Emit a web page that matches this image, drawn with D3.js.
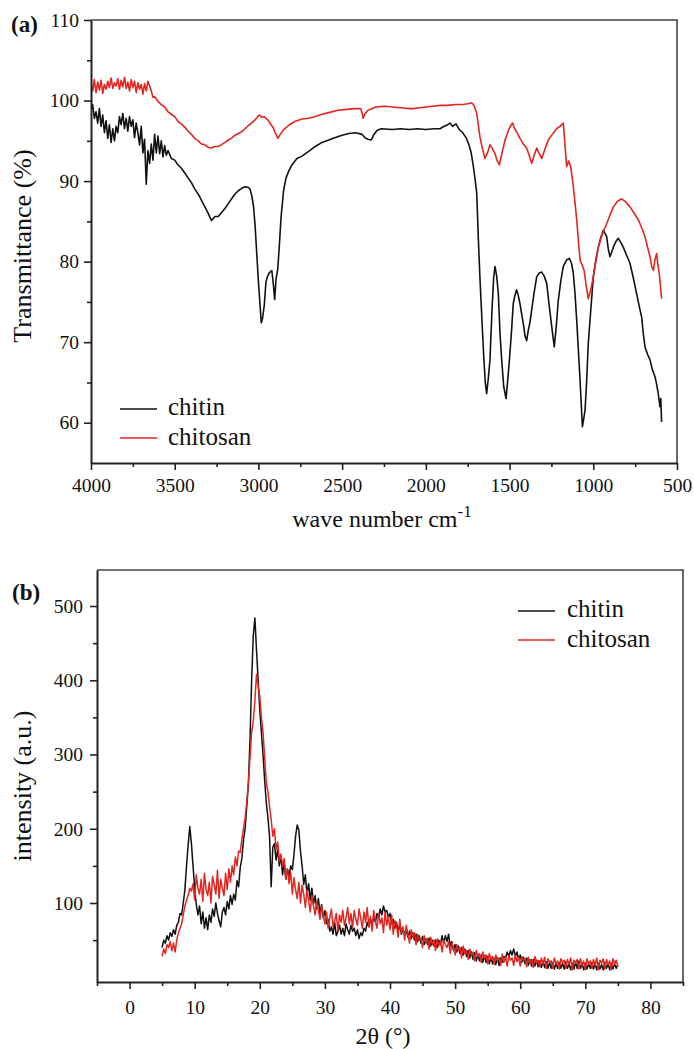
<!DOCTYPE html>
<html>
<head>
<meta charset="utf-8">
<script src="https://cdn.jsdelivr.net/npm/d3@7"></script>
<style>
  body { margin: 0; background: #fff; }
  svg { display: block; }
  text { font-family: "Liberation Serif", "Times New Roman", serif; fill: #111; }
</style>
</head>
<body>
<svg id="chart" width="694" height="1049"></svg>
<script>
// ---------- (a) FTIR spectra ----------
const irChitinWn = [4000,3990,3980,3970,3960,3950,3940,3930,3920,3910,3900,3890,3880,3870,3860,3850,3840,3830,3820,3810,3800,3790,3780,3770,3760,3750,3740,3730,3720,3710,3700,3690,3680,3670,3660,3650,3640,3630,3620,3610,3600,3590,3580,3570,3560,3550,3540,3520,3500,3480,3460,3440,3420,3400,3380,3360,3340,3320,3300,3280,3260,3240,3220,3200,3180,3160,3140,3120,3100,3080,3060,3050,3040,3030,3020,3010,3000,2990,2983,2975,2965,2955,2945,2935,2920,2910,2903,2895,2885,2875,2865,2850,2835,2820,2800,2770,2740,2700,2660,2620,2580,2540,2500,2460,2420,2380,2365,2345,2326,2310,2290,2266,2200,2150,2100,2050,2000,1950,1916,1890,1870,1856,1840,1820,1800,1780,1760,1746,1730,1716,1706,1696,1687,1677,1667,1655,1645,1637,1627,1617,1605,1595,1587,1577,1567,1557,1547,1535,1521,1510,1498,1488,1478,1468,1458,1448,1438,1428,1418,1408,1398,1388,1378,1368,1353,1338,1323,1308,1293,1278,1263,1248,1233,1221,1209,1194,1179,1160,1143,1130,1119,1109,1099,1089,1079,1070,1065,1057,1049,1040,1030,1015,1000,985,970,955,940,930,920,910,900,890,880,865,851,836,821,801,781,761,741,726,711,701,691,676,661,646,631,622,612,602,597,592];
const irChitinT = [98.8,99.5,97.8,98.6,97.2,99.0,96.8,98.2,96.0,97.5,95.3,97.0,94.8,96.5,95.0,96.8,96.0,98.0,97.0,98.4,96.5,97.8,96.2,98.0,96.8,97.6,95.4,97.2,96.0,94.5,96.8,93.5,95.2,89.6,93.8,92.2,94.6,92.6,95.8,93.5,95.6,93.4,95.0,93.0,94.4,93.2,93.8,92.8,92.6,92.0,91.6,91.0,90.4,89.8,89.0,88.4,87.6,86.8,86.0,85.1,85.6,85.6,86.1,86.6,87.2,87.8,88.4,88.8,89.1,89.3,89.2,89.0,88.2,87.0,84.5,81.0,77.5,74.5,72.4,73.0,74.6,77.5,78.2,78.6,78.9,77.0,75.3,77.8,79.0,82.0,85.5,88.8,90.4,91.2,92.0,92.8,93.1,93.7,94.3,94.8,95.1,95.4,95.7,95.9,96.0,95.8,95.4,95.2,95.1,95.8,96.3,96.5,96.4,96.5,96.4,96.5,96.4,96.5,96.5,96.8,97.0,97.2,96.8,97.1,96.4,96.0,95.4,94.7,93.6,91.8,90.2,88.5,83.1,78.0,73.6,68.5,65.0,63.6,65.5,67.8,74.0,78.0,79.4,78.2,76.0,71.0,67.8,64.5,63.0,65.5,68.6,71.5,74.8,75.8,76.5,75.8,74.8,73.5,72.3,70.8,70.2,71.5,72.5,74.0,76.2,78.1,78.6,78.7,78.2,77.3,74.5,71.9,69.4,72.0,75.2,77.6,79.4,80.2,80.4,79.8,78.5,76.0,72.7,69.0,65.3,61.5,59.5,60.5,61.6,65.0,69.8,74.0,78.1,80.2,81.8,83.0,83.9,83.5,83.1,81.5,80.6,81.2,81.8,82.5,82.9,82.4,81.8,80.8,79.8,78.0,76.0,74.5,73.1,71.0,69.4,68.5,67.8,66.5,65.7,64.8,63.6,62.0,63.0,60.1];

const irChitosanWn = [4000,3990,3980,3970,3960,3950,3940,3930,3920,3910,3900,3890,3880,3870,3860,3850,3840,3830,3820,3810,3800,3790,3780,3770,3760,3750,3740,3730,3720,3710,3700,3690,3680,3670,3660,3650,3640,3630,3620,3600,3580,3560,3540,3520,3500,3480,3460,3440,3420,3400,3380,3360,3340,3320,3300,3281,3260,3240,3222,3200,3180,3162,3140,3120,3102,3080,3060,3042,3020,3005,2993,2980,2965,2950,2943,2925,2913,2900,2890,2883,2870,2853,2820,2783,2740,2700,2664,2620,2580,2525,2470,2425,2390,2380,2375,2365,2346,2300,2246,2200,2150,2100,2075,2040,2000,1960,1916,1870,1820,1780,1750,1727,1715,1706,1696,1687,1677,1662,1647,1632,1617,1602,1587,1575,1561,1545,1527,1505,1490,1482,1470,1455,1438,1418,1398,1383,1368,1353,1338,1323,1308,1290,1269,1245,1219,1199,1179,1169,1159,1147,1135,1119,1109,1099,1089,1079,1067,1055,1042,1030,1015,1000,985,970,945,920,900,880,855,831,805,781,756,731,711,691,676,661,651,641,632,622,614,606,599,592];
const irChitosanT = [102.1,101.2,102.6,101.0,102.3,101.3,102.5,100.9,102.0,101.4,102.4,101.6,102.8,101.5,102.2,101.8,102.7,101.4,102.5,101.7,102.9,101.5,102.3,101.2,102.6,101.6,102.4,101.0,102.2,101.4,102.0,100.8,102.1,101.2,102.4,101.8,101.2,100.4,100.5,99.9,99.5,99.2,98.6,98.3,98.0,97.4,97.1,96.7,96.2,95.8,95.3,95.0,94.6,94.5,94.2,94.1,94.3,94.3,94.5,94.8,95.1,95.3,95.7,95.9,96.1,96.5,96.9,97.2,97.6,98.0,98.2,97.9,98.0,97.7,97.6,97.0,96.7,96.0,95.6,95.3,95.8,96.3,96.9,97.4,97.7,97.8,98.0,98.3,98.5,98.8,98.9,99.0,99.0,98.4,97.8,98.3,98.8,99.2,99.3,99.2,99.1,99.0,99.0,99.1,99.2,99.3,99.4,99.4,99.5,99.5,99.6,99.7,99.5,99.0,98.4,97.0,95.5,94.0,92.8,93.5,94.5,94.0,93.4,92.6,92.0,93.5,95.1,96.4,97.0,97.2,96.5,96.0,95.3,94.6,94.1,93.2,92.2,93.2,94.1,93.4,92.8,93.9,95.1,95.8,96.5,96.8,97.2,94.5,91.8,92.5,91.8,89.3,87.3,85.2,82.6,80.2,79.6,78.9,77.0,75.4,76.5,78.1,80.0,81.8,83.5,84.7,85.8,86.8,87.5,87.8,87.4,86.8,86.0,85.2,84.2,83.1,81.8,80.6,79.4,78.9,80.2,81.0,79.6,78.5,77.0,75.4];

const irXTicks = [4000,3500,3000,2500,2000,1500,1000,500];
const irXMinor = [3750,3250,2750,2250,1750,1250,750];
const irYTicks = [60,70,80,90,100,110];
const irYMinor = [65,75,85,95,105];

// ---------- (b) XRD patterns, scanned 5°–75° in 0.25° steps ----------
const xrdStart = 5, xrdStep = 0.25;
const xrdChitin = [
  40,50,46,56,50,60,55,64,58,70,74,86,84,100,118,150,178,203,180,150,
  120,98,84,96,72,88,66,80,64,84,74,92,82,100,86,76,68,88,94,84,
  102,92,110,98,112,104,130,122,148,160,185,200,230,260,320,400,460,484,440,400,
  360,330,300,265,235,215,190,122,175,180,158,172,150,164,138,155,132,146,136,150,
  145,165,190,205,198,170,150,125,138,112,126,104,120,98,110,92,106,86,98,80,
  90,72,78,62,68,58,74,56,62,70,58,66,56,72,64,58,70,62,66,56,
  64,52,60,56,66,62,74,68,78,72,82,74,86,80,92,84,96,88,90,80,
  86,72,78,66,74,62,70,58,66,56,64,54,62,52,60,50,58,48,56,46,
  55,44,52,44,53,42,50,42,50,40,50,44,56,46,56,48,58,42,48,36,
  44,34,42,32,40,30,38,28,36,26,34,24,33,22,31,22,30,20,29,20,
  28,18,27,18,26,17,26,16,26,20,28,26,34,28,36,30,38,28,34,24,
  30,20,27,18,26,16,24,15,24,15,23,14,22,13,22,13,21,12,20,12,
  20,11,19,12,20,12,19,11,21,12,18,10,19,11,20,12,22,12,18,10,
  19,11,18,12,20,11,18,10,19,11,17,10,20,12,18,10,19,11,18,12,
  17];
const xrdChitosan = [
  28,38,32,44,40,48,36,46,34,50,60,66,72,84,96,104,110,120,116,126,
  104,138,120,112,132,102,140,118,110,128,100,136,124,112,144,106,132,120,110,140,
  118,146,128,150,138,162,150,170,168,186,200,214,236,262,296,330,345,372,408,392,
  378,350,330,296,262,250,230,212,190,200,172,182,156,166,150,160,132,146,126,142,
  112,134,118,106,128,100,124,112,94,118,104,88,110,96,84,102,90,78,96,84,
  72,88,66,80,92,68,76,86,62,84,74,90,70,80,94,72,86,66,90,78,
  70,92,80,66,88,74,94,68,82,62,90,76,66,86,72,80,60,88,70,82,
  64,84,58,76,70,54,78,60,68,50,70,58,46,64,54,60,44,58,50,52,
  40,56,46,52,38,54,44,50,36,52,42,48,34,50,44,40,48,32,46,40,
  30,44,36,40,26,42,32,36,24,38,30,34,22,36,28,32,20,34,26,30,
  18,32,24,28,17,30,22,26,16,31,20,28,15,29,23,26,16,30,21,27,
  15,28,22,25,14,27,19,24,13,28,20,23,14,26,18,27,12,25,20,22,
  12,26,18,22,11,25,20,23,12,24,17,26,10,23,19,24,11,25,16,22,
  10,25,18,22,12,24,16,26,10,23,19,25,11,24,17,22,10,25,18,23,
  14];
const xrdAngle = xrdChitin.map((_, i) => xrdStart + i * xrdStep);

const xrdXTicks = [0,10,20,30,40,50,60,70,80];
const xrdXMinor = [-5,5,15,25,35,45,55,65,75,85];
const xrdYTicks = [100,200,300,400,500];
const xrdYMinor = [50,150,250,350,450];

const seriesNames = ["chitin", "chitosan"];
const seriesColors = ["#111111", "#e3261f"];

const svg = d3.select("#chart");

function drawPanel(opt) {
  const { left, right, top, bottom, xDomain, yDomain } = opt;
  const x = d3.scaleLinear().domain(xDomain).range([left, right]);
  const y = d3.scaleLinear().domain(yDomain).range([bottom, top]);
  const g = svg.append("g");

  const clipId = "clip-" + opt.id;
  svg.append("clipPath").attr("id", clipId)
    .append("rect").attr("x", left).attr("y", top)
    .attr("width", right - left).attr("height", bottom - top);

  // data lines
  const line = d3.line().x(d => x(d[0])).y(d => y(d[1]));
  opt.series.forEach((s, i) => {
    g.append("path")
      .datum(d3.zip(s.x, s.y))
      .attr("clip-path", `url(#${clipId})`)
      .attr("fill", "none")
      .attr("stroke", seriesColors[i])
      .attr("stroke-width", opt.lineWidth)
      .attr("stroke-linejoin", "round")
      .attr("d", line);
  });

  // frame (top and right)
  g.append("path")
    .attr("d", `M${left},${top}H${right}V${bottom}`)
    .attr("fill", "none").attr("stroke", "#444").attr("stroke-width", 1.6);

  const fmt = d3.format("d");

  // bottom axis
  g.append("g").attr("transform", `translate(0,${bottom})`)
    .call(d3.axisBottom(x).tickValues(opt.xTicks).tickFormat(fmt)
      .tickSize(7).tickPadding(opt.xPad).tickSizeOuter(0));
  g.append("g").attr("transform", `translate(0,${bottom})`)
    .call(d3.axisBottom(x).tickValues(opt.xMinor).tickSize(4).tickFormat("").tickSizeOuter(0))
    .select(".domain").remove();

  // left axis
  g.append("g").attr("transform", `translate(${left},0)`)
    .call(d3.axisLeft(y).tickValues(opt.yTicks).tickFormat(fmt)
      .tickSize(7).tickPadding(opt.yPad).tickSizeOuter(0));
  g.append("g").attr("transform", `translate(${left},0)`)
    .call(d3.axisLeft(y).tickValues(opt.yMinor).tickSize(4).tickFormat("").tickSizeOuter(0))
    .select(".domain").remove();

  g.selectAll(".domain").attr("stroke", "#222").attr("stroke-width", 2);
  g.selectAll(".tick line").attr("stroke", "#222").attr("stroke-width", 1.6);
  g.selectAll(".tick text")
    .attr("font-family", '"Liberation Serif", "Times New Roman", serif')
    .attr("font-size", 19.5).attr("fill", "#111");

  // legend
  opt.legend.rows.forEach((ly, i) => {
    g.append("line")
      .attr("x1", opt.legend.x0).attr("x2", opt.legend.x1)
      .attr("y1", ly).attr("y2", ly)
      .attr("stroke", seriesColors[i]).attr("stroke-width", 1.6);
    g.append("text")
      .attr("x", opt.legend.tx).attr("y", opt.legend.base[i])
      .attr("font-size", 25)
      .text(seriesNames[i]);
  });
  return { x, y };
}

// (a) FTIR
drawPanel({
  id: "ir", left: 91, right: 677, top: 20, bottom: 463,
  xDomain: [4000, 500], yDomain: [55, 110],
  xTicks: irXTicks, xMinor: irXMinor, yTicks: irYTicks, yMinor: irYMinor,
  xPad: 8, yPad: 5, lineWidth: 1.6,
  series: [{ x: irChitinWn, y: irChitinT }, { x: irChitosanWn, y: irChitosanT }],
  legend: { x0: 120, x1: 157, tx: 168, rows: [409, 438], base: [415, 445] }
});

// (b) XRD
drawPanel({
  id: "xrd", left: 97, right: 683, top: 570, bottom: 982,
  xDomain: [-5, 85], yDomain: [-6.4, 548.5],
  xTicks: xrdXTicks, xMinor: xrdXMinor, yTicks: xrdYTicks, yMinor: xrdYMinor,
  xPad: 11, yPad: 7, lineWidth: 1.5,
  series: [{ x: xrdAngle, y: xrdChitin }, { x: xrdAngle, y: xrdChitosan }],
  legend: { x0: 518, x1: 555, tx: 567, rows: [611, 640], base: [617, 647] }
});

// panel letters
svg.append("text").attr("x", 11).attr("y", 32).attr("font-size", 23)
  .attr("font-weight", "bold").text("(a)");
svg.append("text").attr("x", 12).attr("y", 600).attr("font-size", 23)
  .attr("font-weight", "bold").text("(b)");

// axis titles
svg.append("text").attr("transform", "translate(31,246) rotate(-90)")
  .attr("text-anchor", "middle").attr("font-size", 26).text("Transmittance (%)");
svg.append("text").attr("transform", "translate(31,786) rotate(-90)")
  .attr("text-anchor", "middle").attr("font-size", 26).text("intensity (a.u.)");

const wn = svg.append("text").attr("x", 382).attr("y", 527)
  .attr("text-anchor", "middle").attr("font-size", 24);
wn.append("tspan").text("wave number cm");
wn.append("tspan").attr("dy", -10).attr("font-size", 17).text("-1");

svg.append("text").attr("x", 383).attr("y", 1044)
  .attr("text-anchor", "middle").attr("font-size", 24).text("2θ (°)");
</script>
</body>
</html>
